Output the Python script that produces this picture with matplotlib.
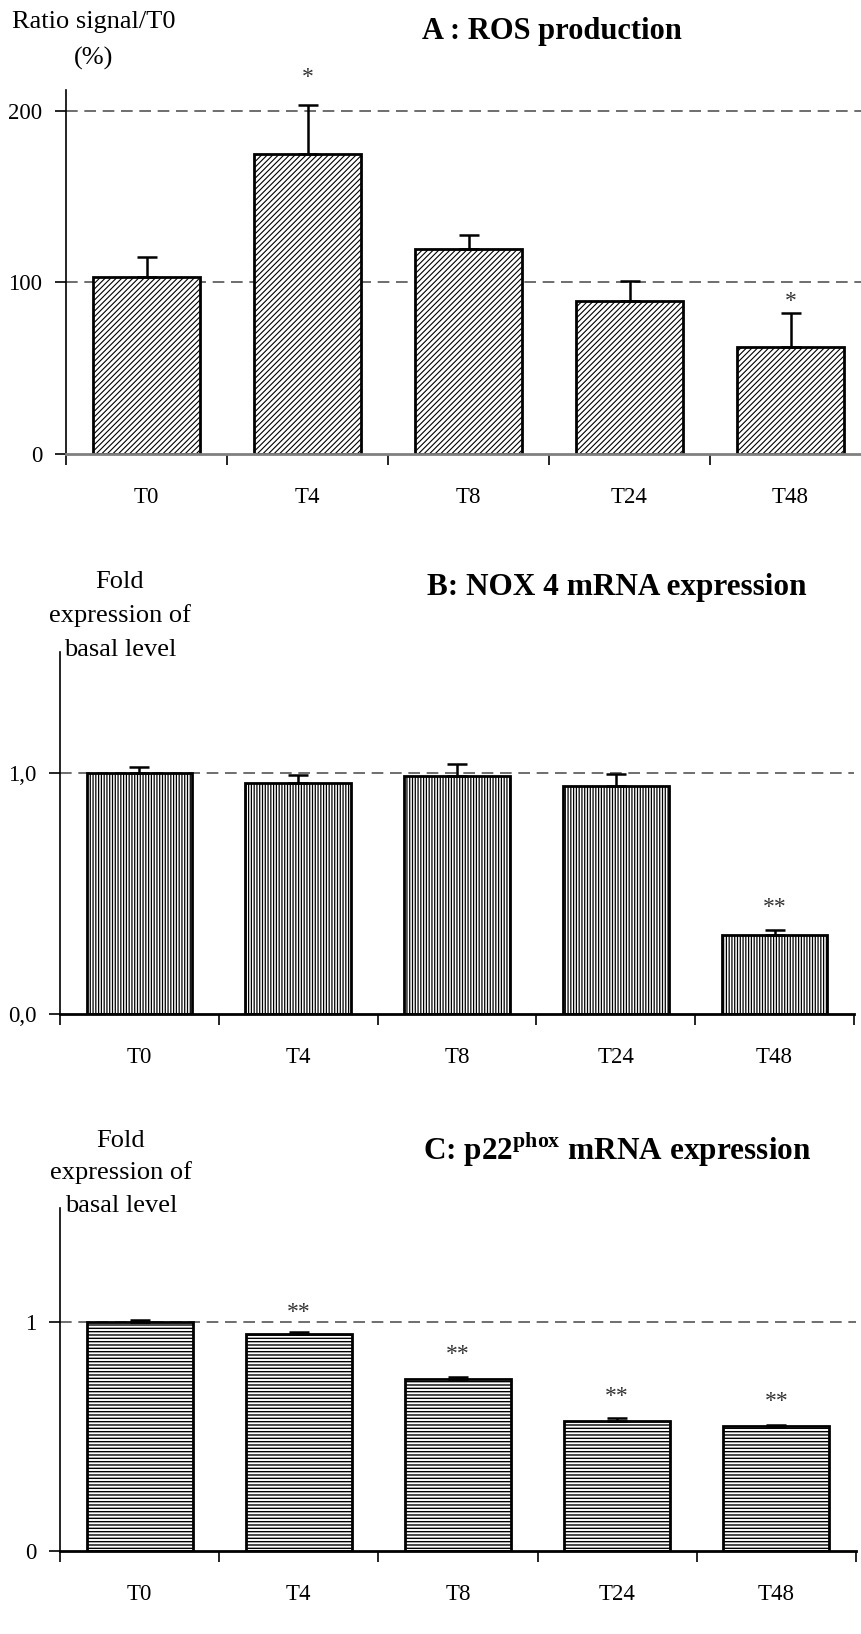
import matplotlib
matplotlib.use("Agg")
import matplotlib.pyplot as plt
import numpy as np

plt.rcParams['font.family'] = ['Liberation Serif', 'DejaVu Serif']
plt.rcParams['mathtext.fontset'] = 'custom'
plt.rcParams['mathtext.rm'] = 'Liberation Serif'
plt.rcParams['mathtext.bf'] = 'Liberation Serif:bold'
plt.rcParams['hatch.color'] = 'black'

categories = ["T0", "T4", "T8", "T24", "T48"]

# Panel A: ROS production (% of T0)
ros_mean = [103, 175, 119.6, 89, 62.4]
ros_err = [11.7, 28.1, 8.1, 11.7, 19.8]
ros_stars = ["", "*", "", "", "*"]
ros_star_y = [None, 219, None, None, 89]
ros_ticks = [0, 100, 200]
ros_ticklabels = ["0", "100", "200"]
ros_ref = [100, 200]

# Panel B: NOX4 mRNA expression
nox_mean = [1.0, 0.959, 0.986, 0.945, 0.327]
nox_err = [0.023, 0.030, 0.048, 0.048, 0.021]
nox_stars = ["", "", "", "", "**"]
nox_star_y = [None, None, None, None, 0.44]
nox_ticks = [0.0, 1.0]
nox_ticklabels = ["0,0", "1,0"]
nox_ref = [1.0]

# Panel C: p22phox mRNA expression
p22_mean = [1.0, 0.948, 0.751, 0.569, 0.546]
p22_err = [0.010, 0.009, 0.010, 0.011, 0.003]
p22_stars = ["", "**", "**", "**", "**"]
p22_star_y = [None, 1.044, 0.859, 0.676, 0.652]
p22_ticks = [0, 1]
p22_ticklabels = ["0", "1"]
p22_ref = [1.0]

W, H = 861, 1634
fig = plt.figure(figsize=(W / 100, H / 100), dpi=100)


def ax_rect(left, right, bottom, top):
    return [left / W, 1 - bottom / H, (right - left) / W, (bottom - top) / H]


TICK_FS = 16.5
STAR_FS = 17
LABEL_FS = 19


def panel(rect, means, errs, stars, star_y, ticks, ticklabels, refs, ylim, hatch, bottom_color):
    ax = fig.add_axes(rect)
    x = np.arange(len(categories))
    for r in refs:
        ax.axhline(r, color='#555555', lw=1.2, ls=(0, (7, 4)), zorder=1)
    ax.bar(x, means, width=0.665, color='white', edgecolor='black', linewidth=2.0,
           hatch=hatch, zorder=2)
    ax.errorbar(x, means, yerr=[np.zeros(len(errs)), errs], fmt='none', ecolor='black',
                elinewidth=1.8, capsize=7.5, capthick=1.8, zorder=3)
    for xi, s, sy in zip(x, stars, star_y):
        if s:
            ax.text(xi, sy, s, ha='center', va='center', fontsize=STAR_FS, color='#333333')
    ax.set_xlim(-0.5, len(categories) - 0.5)
    ax.set_ylim(*ylim)
    ax.set_yticks(ticks)
    ax.set_yticklabels(ticklabels)
    ax.set_xticks(np.arange(len(categories) + 1) - 0.5, minor=False)
    ax.set_xticklabels([])
    ax.set_xticks(x, minor=True)
    ax.set_xticklabels(categories, minor=True)
    ax.tick_params(axis='x', which='major', length=8, width=1.2, direction='out')
    ax.tick_params(axis='x', which='minor', length=0, pad=24, labelsize=TICK_FS)
    ax.tick_params(axis='y', length=8, width=1.2, direction='out', pad=9, labelsize=TICK_FS)
    for sp in ['top', 'right']:
        ax.spines[sp].set_visible(False)
    ax.spines['left'].set_linewidth(1.2)
    ax.spines['bottom'].set_linewidth(2.0)
    ax.spines['bottom'].set_color(bottom_color)
    ax.spines['bottom'].set_zorder(4)
    return ax


plt.rcParams['hatch.linewidth'] = 0.8
axA = panel(ax_rect(66, 871, 454, 90), ros_mean, ros_err, ros_stars, ros_star_y,
            ros_ticks, ros_ticklabels, ros_ref, (0, 212), '//////', '#808080')
plt.rcParams['hatch.linewidth'] = 0.9
axB = panel(ax_rect(60, 854, 1014, 652), nox_mean, nox_err, nox_stars, nox_star_y,
            nox_ticks, nox_ticklabels, nox_ref, (0, 1.5), '||||||', 'black')
plt.rcParams['hatch.linewidth'] = 1.0
axC = panel(ax_rect(60, 856, 1551, 1208), p22_mean, p22_err, p22_stars, p22_star_y,
            p22_ticks, p22_ticklabels, p22_ref, (0, 1.5), '-----', 'black')


def ftext(x, y, s, **kw):
    fig.text(x / W, 1 - y / H, s, **kw)


# Titles
ftext(552, 32, "A : ROS production", ha='center', va='center', fontsize=22, fontweight='bold')
ftext(617, 588, "B: NOX 4 mRNA expression", ha='center', va='center', fontsize=22.5, fontweight='bold')
ftext(617, 1150, r"C: p22$^{\mathbf{phox}}$ mRNA expression", ha='center', va='center',
      fontsize=22.5, fontweight='bold')

# Y-axis labels
ftext(94, 22, "Ratio signal/T0", ha='center', va='center', fontsize=LABEL_FS)
ftext(94, 58, "(%)", ha='center', va='center', fontsize=LABEL_FS)
for yy, s in zip([582, 616, 650], ["Fold", "expression of", "basal level"]):
    ftext(120, yy, s, ha='center', va='center', fontsize=LABEL_FS)
for yy, s in zip([1141, 1173, 1206], ["Fold", "expression of", "basal level"]):
    ftext(121, yy, s, ha='center', va='center', fontsize=LABEL_FS)

fig.savefig("out.png", dpi=100)
